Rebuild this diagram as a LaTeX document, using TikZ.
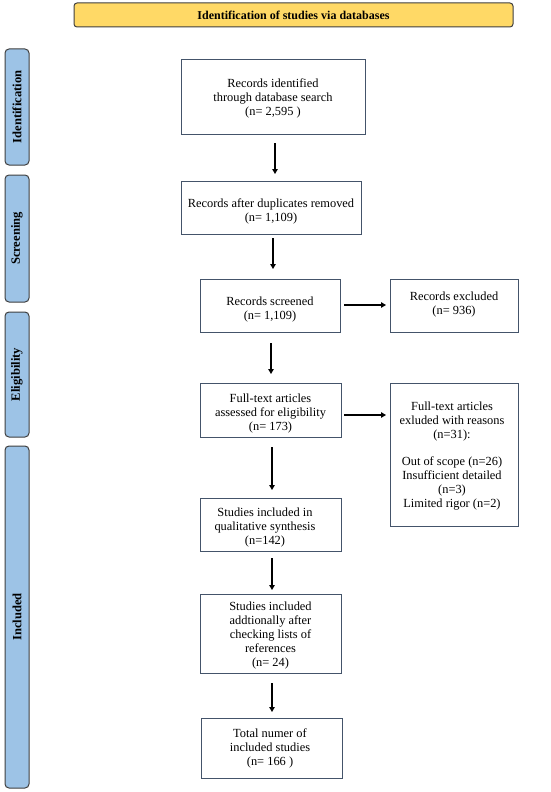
\documentclass[tikz,border=0pt]{standalone}
\usepackage{fontspec}
\setmainfont{Liberation Serif}
\usetikzlibrary{arrows.meta}
\definecolor{bannery}{HTML}{FFD966}
\definecolor{sideb}{HTML}{9DC3E6}
\definecolor{edgeg}{HTML}{3F3F3F}
\definecolor{boxedge}{HTML}{44546A}
\tikzset{
  banner/.style={draw=edgeg, line width=1pt, fill=bannery, rounded corners=3pt},
  side/.style={draw=edgeg, line width=1pt, fill=sideb, rounded corners=4pt},
  sidetext/.style={rotate=90, font=\bfseries\fontsize{12.6}{14}\selectfont},
  flowbox/.style={draw=boxedge, line width=0.8pt, fill=white},
  flowtext/.style={align=center, font=\fontsize{12.4}{14}\selectfont},
  flowarrow/.style={-{Triangle[length=5pt,width=5.5pt]}, line width=1.1pt, black}
}
\begin{document}
\begin{tikzpicture}[x=1pt,y=-1pt]
\useasboundingbox (0,0) rectangle (550,792);
% banner
\draw[banner] (74,3) rectangle (513,27);
\node[font=\bfseries\fontsize{12}{14}\selectfont] (bantext) at (293.5,15) {Identification of studies via databases};
% side bars
\draw[side] (5,49) rectangle (29,165);
\node[sidetext] (sid) at (17,107) {Identification};
\draw[side] (5,175) rectangle (29,302);
\node[sidetext] (sscr) at (17,238.5) {Screening};
\draw[side] (5,312) rectangle (29,437);
\node[sidetext] (selig) at (17,374.5) {Eligibility};
\draw[side] (5,446) rectangle (29,788);
\node[sidetext] (sinc) at (17,617) {Included};
% boxes
\draw[flowbox] (181,59) rectangle (365,134);
\node[flowtext] (b1) at (273,98.5) {Records identified\\through database search\\(n= 2,595 )};
\coordinate (b1s) at (275,143);
\coordinate (b1e) at (275,174);

\draw[flowbox] (181,181) rectangle (361,234);
\node[flowtext] (b2) at (271,211.5) {Records after duplicates removed\\(n= 1,109)};
\coordinate (b2s) at (273,238);
\coordinate (b2e) at (273,269);

\draw[flowbox] (200,279) rectangle (340,332);
\node[flowtext] (b3) at (270,309.5) {Records screened\\(n= 1,109)};

\draw[flowbox] (390,279) rectangle (518,332);
\node[flowtext] (x1) at (454,304.5) {Records excluded\\(n= 936)};
\coordinate (b3r) at (344,305);
\coordinate (x1l) at (386,305);

\coordinate (b3s) at (271,343);
\coordinate (b3e) at (271,374);

\draw[flowbox] (200,383) rectangle (341,437);
\node[flowtext] (b4) at (270.5,414) {Full-text articles\\assessed for eligibility\\(n= 173)};
\coordinate (b4r) at (344,415);
\coordinate (x2l) at (386,415);

\draw[flowbox] (390,383) rectangle (518,526);
\node[flowtext] (x2) at (452,456) {Full-text articles\\exluded with reasons\\(n=31):\\[13pt]Out of scope (n=26)\\Insufficient detailed\\(n=3)\\Limited rigor (n=2)};

\coordinate (b4s) at (272,447);
\coordinate (b4e) at (272,490);

\draw[flowbox] (200,498) rectangle (341,551);
\node[flowtext] (b5) at (265,527.5) {Studies included in\\qualitative synthesis\\(n=142)};
\coordinate (b5s) at (272,558);
\coordinate (b5e) at (272,590);

\draw[flowbox] (200,594) rectangle (341,673);
\node[flowtext] (b6) at (270.5,636) {Studies included\\addtionally after\\checking lists of\\references\\(n= 24)};
\coordinate (b6s) at (272,683);
\coordinate (b6e) at (272,712);

\draw[flowbox] (201,718) rectangle (342,778);
\node[flowtext] (b7) at (270,748) {Total numer of\\included studies\\(n= 166 )};

\draw[flowarrow] (b1s) -- (b1e);
\draw[flowarrow] (b2s) -- (b2e);
\draw[flowarrow] (b3r) -- (x1l);
\draw[flowarrow] (b3s) -- (b3e);
\draw[flowarrow] (b4r) -- (x2l);
\draw[flowarrow] (b4s) -- (b4e);
\draw[flowarrow] (b5s) -- (b5e);
\draw[flowarrow] (b6s) -- (b6e);
\end{tikzpicture}
\end{document}
